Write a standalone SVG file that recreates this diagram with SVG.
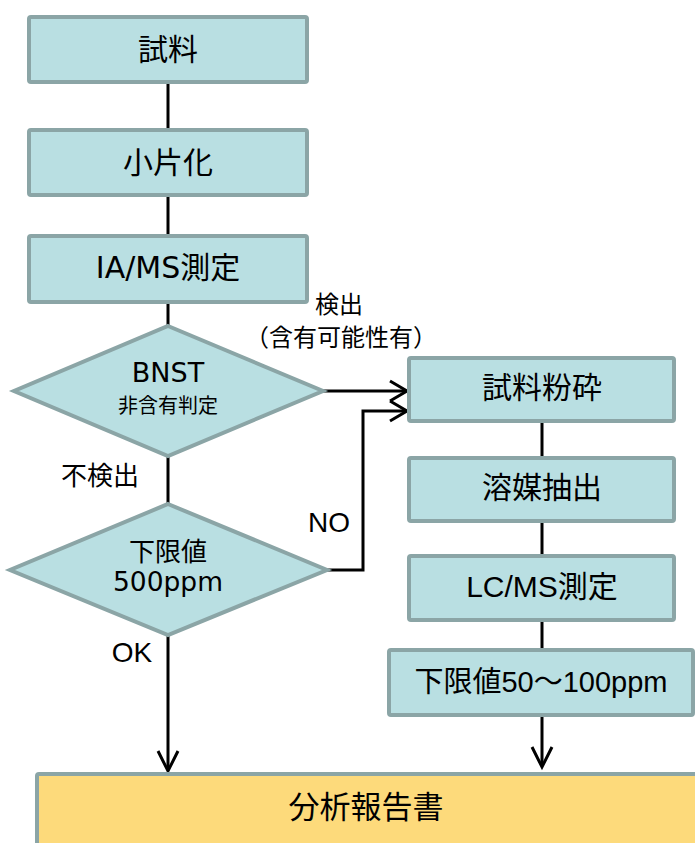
<svg xmlns="http://www.w3.org/2000/svg" width="695" height="843" viewBox="0 0 695 843">
<defs>
<style>
.box{fill:#b9dfe2;stroke:#8ba5a6;stroke-width:4}
.rep{fill:#fdda7b;stroke:#8ba5a6;stroke-width:4}
.ln{fill:none;stroke:#000;stroke-width:3}
.hd{fill:none;stroke:#000;stroke-width:3;stroke-linejoin:miter}
.t1{font-family:"DejaVu Sans","Noto Sans CJK JP",sans-serif;text-anchor:middle;fill:#000}
.t2{font-family:"Liberation Sans","Noto Sans CJK JP",sans-serif;text-anchor:middle;fill:#000}
</style>
</defs>
<rect width="695" height="843" fill="#fff"/>
<g id="connectors">
<line class="ln" x1="168" y1="84" x2="168" y2="128"/>
<line class="ln" x1="168" y1="197" x2="168" y2="234"/>
<line class="ln" x1="168" y1="304" x2="168" y2="326"/>
<line class="ln" x1="168" y1="456" x2="168" y2="504"/>
<line class="ln" x1="168" y1="635" x2="168" y2="770"/>
<polyline class="hd" points="158,751 168,771 178,751"/>
<line class="ln" x1="323" y1="391" x2="406" y2="391"/>
<polyline class="hd" points="390,381 407,391 390,401"/>
<polyline class="ln" points="327,570 363,570 363,411 406,411"/>
<polyline class="hd" points="390,401 407,411 390,421"/>
<line class="ln" x1="542" y1="423" x2="542" y2="456"/>
<line class="ln" x1="542" y1="523" x2="542" y2="554"/>
<line class="ln" x1="542" y1="622" x2="542" y2="648"/>
<line class="ln" x1="542" y1="717" x2="542" y2="766"/>
<polyline class="hd" points="532,747 542,767 552,747"/>
</g>
<g id="n1"><rect class="box" x="29" y="17" width="278" height="65" rx="2"/><text class="t1" x="168" y="60" font-size="30">試料</text></g>
<g id="n2"><rect class="box" x="29" y="130" width="278" height="65" rx="2"/><text class="t1" x="168" y="173" font-size="30">小片化</text></g>
<g id="n3"><rect class="box" x="29" y="236" width="278" height="66" rx="2"/><text class="t1" x="168" y="278" font-size="30">IA/MS測定</text></g>
<g id="d1"><polygon class="box" points="168,326 323,391 168,456 14,391"/><text class="t1" x="168" y="382" font-size="27">BNST</text><text class="t1" x="168" y="413" font-size="20">非含有判定</text></g>
<g id="d2"><polygon class="box" points="168,504 327,570 168,635 10,570"/><text class="t1" x="168" y="561" font-size="26">下限値</text><text class="t1" x="168" y="591" font-size="26.5">500ppm</text></g>
<g id="r1"><rect class="box" x="409" y="358" width="265" height="63" rx="2"/><text class="t2" x="542" y="398" font-size="30">試料粉砕</text></g>
<g id="r2"><rect class="box" x="409" y="458" width="265" height="63" rx="2"/><text class="t2" x="542" y="498" font-size="30">溶媒抽出</text></g>
<g id="r3"><rect class="box" x="409" y="556" width="265" height="64" rx="2"/><text class="t2" x="542" y="597" font-size="30">LC/MS測定</text></g>
<g id="r4"><rect class="box" x="389" y="650" width="304" height="65" rx="2"/><text class="t2" x="541" y="692" font-size="29">下限値50～100ppm</text></g>
<g id="report"><rect class="rep" x="37" y="774" width="700" height="100" rx="2"/><text class="t2" x="366" y="818" font-size="31">分析報告書</text></g>
<g id="labels">
<text class="t2" x="339" y="313" font-size="24">検出</text>
<text class="t2" x="341" y="346" font-size="24">（含有可能性有）</text>
<text class="t2" x="100" y="485" font-size="26">不検出</text>
<text class="t2" x="329" y="532" font-size="28">NO</text>
<text class="t2" x="132" y="662" font-size="28">OK</text>
</g>
</svg>
